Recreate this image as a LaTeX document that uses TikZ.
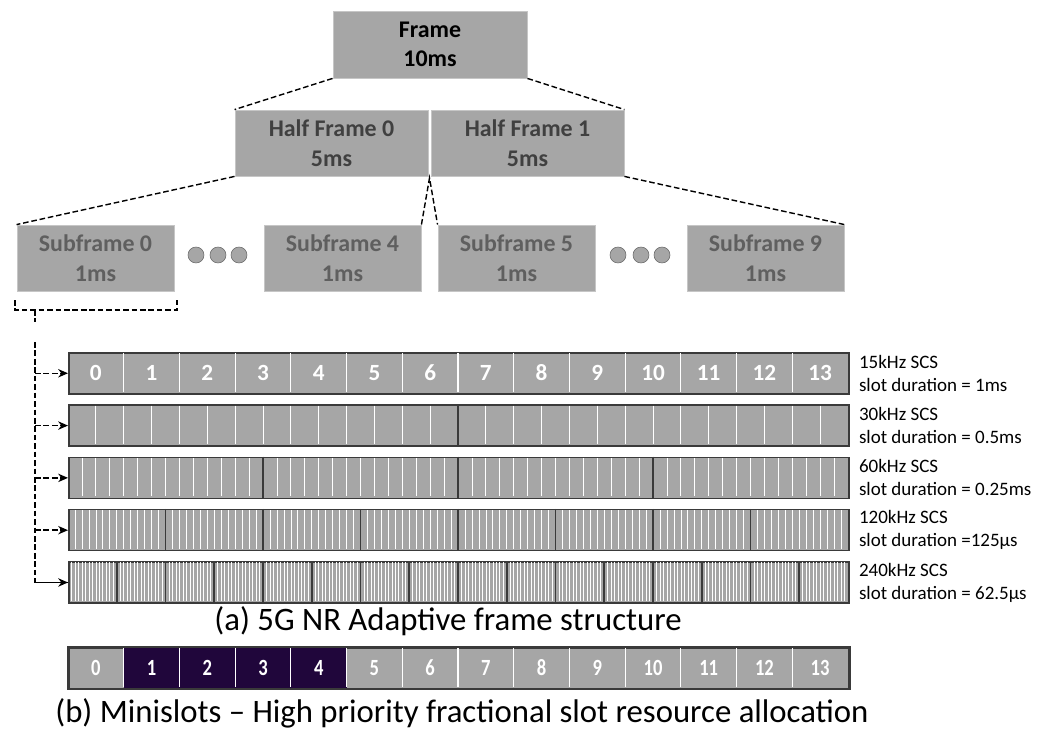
\documentclass[tikz,border=0pt]{standalone}
\usepackage{fontspec}
\setmainfont{Carlito}[Numbers=Lining]
\usepackage{graphicx}
\usetikzlibrary{arrows.meta}
\definecolor{boxgray}{HTML}{A6A6A6}
\definecolor{hftext}{HTML}{404040}
\definecolor{sftext}{HTML}{5F5F5F}
\definecolor{minipurple}{HTML}{20063B}
\definecolor{rowedge}{HTML}{3A3A3A}
\newcommand{\minidigit}[1]{\scalebox{0.8}[1]{#1}}
\begin{document}
\begin{tikzpicture}[x=0.025cm,y=-0.025cm,
  block/.style={fill=boxgray,draw=gray!45,line width=0.6pt,align=center,inner sep=0pt,
    font=\bfseries\fontsize{17}{21}\selectfont},
  framebox/.style={block,minimum width=4.85cm,minimum height=1.675cm,text=black},
  halfbox/.style={block,minimum width=4.825cm,minimum height=1.65cm,text=hftext},
  subbox/.style={block,minimum width=3.925cm,minimum height=1.65cm,text=sftext},
  link/.style={dash pattern=on 4pt off 2pt,line width=1pt},
  dot/.style={circle,fill=boxgray,draw=gray!80!black,line width=0.4pt,minimum size=0.4cm,inner sep=0pt},
  slotrow/.style={fill=boxgray,draw=rowedge,line width=1.1pt,minimum width=19.5cm,minimum height=1.025cm,
    inner sep=0pt,anchor=north west},
  slotline/.style={rowedge,line width=1.1pt},
  symnum/.style={text=white,text height=11.5pt,text depth=0pt,inner sep=0pt,
    font=\bfseries\fontsize{16.5}{16.5}\selectfont},
  scs/.style={anchor=west,align=left,inner sep=0pt,font=\fontsize{13.5}{16.3}\selectfont},
  caption/.style={font=\fontsize{23.3}{28}\selectfont}]
\useasboundingbox (0,0) rectangle (1050,748);
\node[framebox] (frame) at (430,44.5) {Frame\\10ms};
\node[halfbox] (hf0) at (331.5,143) {Half Frame 0\\5ms};
\node[halfbox] (hf1) at (527.5,143) {Half Frame 1\\5ms};
\node[subbox] (sf0) at (95.5,258) {Subframe 0\\1ms};
\node[subbox] (sf4) at (342.5,258) {Subframe 4\\1ms};
\node[subbox] (sf5) at (516.5,258) {Subframe 5\\1ms};
\node[subbox] (sf9) at (765.5,258) {Subframe 9\\1ms};
\foreach \x [count=\k] in {196,218,239,618,641,662}
  \node[dot] (dot\k) at (\x,255) {};
\draw[link] (frame.south west) -- (hf0.north west);
\draw[link] (frame.south east) -- (hf1.north east);
\draw[link] (hf0.south west) -- (sf0.north west);
\draw[link] (hf1.south east) -- (sf9.north east);
\coordinate (split) at (429.5,178);
\draw[link] (sf4.north east) -- (split) -- (sf5.north west);
\coordinate (stem) at (35,310);
\coordinate (trunk) at (35,342);
\draw[link] (15,300) -- (15,310) -- (177,310) -- (177,300);
\draw[link] (stem) -- (35,322);
\foreach \r/\m/\w/\t in {1/13/0.8/{15kHz SCS\\slot duration = 1ms},
  2/27/0.7/{30kHz SCS\\slot duration = 0.5ms},
  3/55/0.6/{60kHz SCS\\slot duration = 0.25ms},
  4/111/0.5/{120kHz SCS\\slot duration =125µs},
  5/223/0.45/{240kHz SCS\\slot duration = 62.5µs}}{
  \pgfmathsetmacro{\yt}{352+(\r-1)*52.3}
  \node[slotrow] (row\r) at (68,\yt) {};
  \foreach \i in {1,...,\m}
    \draw[white,line width=\w pt] ({68+\i/(\m+1)*780},\yt+1.2) -- ({68+\i/(\m+1)*780},\yt+39.8);
  \node[scs] (scs\r) at ([xshift=0.225cm]row\r.east) {\t};
}
\foreach \r/\s in {2/1,3/3,4/7,5/15}{
  \pgfmathsetmacro{\yt}{352+(\r-1)*52.3}
  \foreach \j in {1,...,\s}
    \draw[slotline] ({68+\j/(\s+1)*780},\yt) -- ({68+\j/(\s+1)*780},\yt+41);
}
\foreach \i in {0,...,13}
  \node[symnum] (sym\i) at ({68+(\i+0.5)/14*780},372.5) {\i};
\draw[link] (trunk) |- (row5.west);
\foreach \r in {1,...,5}
  \draw[link,-{Stealth[length=7pt,width=6pt]}] (trunk |- row\r.west) -- (row\r.west);
\node[caption] (capa) at (448,621) {(a) 5G NR Adaptive frame structure};
\node[slotrow] (mini) at (68,647) {};
\fill[minipurple] ({68+780/14},647) rectangle ({68+5/14*780},688);
\draw[slotline] (mini.north west) rectangle (mini.south east);
\foreach \i in {1,...,13}
  \draw[white,line width=0.8pt] ({68+\i/14*780},648.2) -- ({68+\i/14*780},686.8);
\foreach \i in {0,...,13}
  \node[symnum] (mini\i) at ({68+(\i+0.5)/14*780},667.5) {\minidigit{\i}};
\node[caption] (capb) at (462,713) {(b) Minislots – High priority fractional slot resource allocation};
\end{tikzpicture}
\end{document}
